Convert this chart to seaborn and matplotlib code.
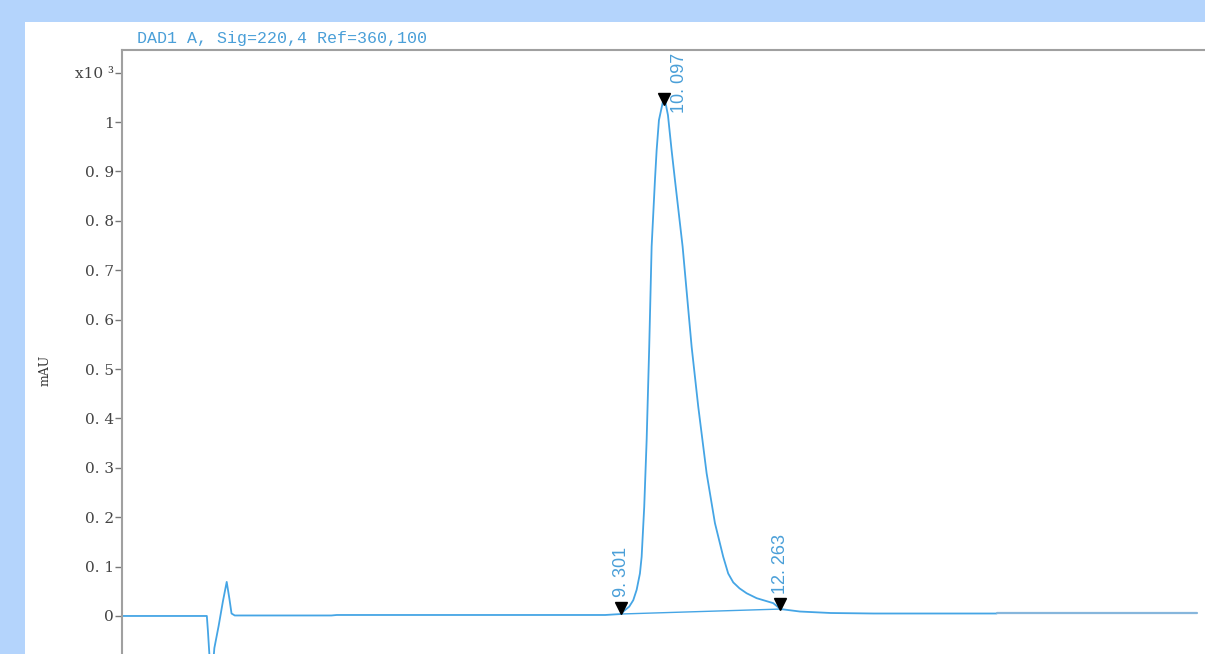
import matplotlib
matplotlib.use('Agg')
import seaborn as sns
import matplotlib.pyplot as plt
from matplotlib.patches import Rectangle
from matplotlib.transforms import offset_copy

sns.set_style('ticks')
plt.rcParams['font.family'] = ['DejaVu Serif']

title = 'DAD1 A, Sig=220,4 Ref=360,100'

# retention time (min) / signal (x10^3 mAU)
time = [0.0, 1.55, 1.58, 1.60, 1.64, 1.68, 1.72, 1.80, 1.88, 1.95, 2.00, 2.04, 2.10,
        3.9, 4.0, 9.0, 9.30, 9.335, 9.447, 9.522, 9.585, 9.646, 9.678, 9.726, 9.771, 9.819,
        9.864, 9.926, 9.957, 10.00, 10.097, 10.168, 10.236, 10.298, 10.441, 10.609, 10.732,
        10.888, 11.043, 11.197, 11.29, 11.384, 11.50, 11.633, 11.82, 12.128, 12.263, 12.626,
        13.2, 14.0, 16.29]
signal = [0.0, 0.0, 0.0, -0.03, -0.10, -0.12, -0.065, -0.02, 0.03, 0.069, 0.035, 0.005, 0.001,
          0.001, 0.002, 0.002, 0.004, 0.009, 0.019, 0.032, 0.053, 0.086, 0.120, 0.221, 0.356, 0.545,
          0.748, 0.883, 0.943, 1.004, 1.053, 1.014, 0.943, 0.883, 0.748, 0.545, 0.424,
          0.289, 0.188, 0.120, 0.086, 0.068, 0.056, 0.046, 0.036, 0.026, 0.014, 0.009,
          0.006, 0.005, 0.005]

# last part of the run (drawn a bit greyer)
tail_time = [16.29, 20.02]
tail_signal = [0.007, 0.007]

peak_times = [9.301, 10.097, 12.263]
peak_heights = [0.004, 1.035, 0.014]
peak_labels = ['9. 301', '10. 097', '12. 263']

yticks = [0, 0.1, 0.2, 0.3, 0.4, 0.5, 0.6, 0.7, 0.8, 0.9, 1.0, 1.1]
ytick_labels = ['0', '0. 1', '0. 2', '0. 3', '0. 4', '0. 5', '0. 6', '0. 7', '0. 8', '0. 9', '1', 'x10 \u00b3']

blue = '#45a5e5'
text_blue = '#4a9fd8'

fig = plt.figure(figsize=(12.05, 6.54), dpi=100)
fig.patch.set_facecolor('#b4d4fc')
fig.patches.append(Rectangle((25 / 1205, 0), 1, (654 - 22) / 654, transform=fig.transFigure,
                             facecolor='white', edgecolor='none', zorder=-10))

ax = fig.add_axes([122 / 1205, 0, 1 - 122 / 1205, (654 - 50) / 654])
ax.set_facecolor('white')

sns.lineplot(x=time, y=signal, ax=ax, color=blue, linewidth=1.3, estimator=None)
sns.lineplot(x=tail_time, y=tail_signal, ax=ax, color='#86b6dc', linewidth=1.6, estimator=None)
# integration baseline
sns.lineplot(x=[peak_times[0], peak_times[2]], y=[peak_heights[0], peak_heights[2]],
             ax=ax, color=blue, linewidth=1.0, estimator=None)

ax.plot(peak_times, peak_heights, linestyle='none', marker='v', color='black', markersize=8,
        transform=offset_copy(ax.transData, fig=fig, x=0, y=5.5, units='dots'), zorder=5)

offsets = [(0, 17), (15, -8), (0, 15)]
for t, h, lbl, off in zip(peak_times, peak_heights, peak_labels, offsets):
    ax.annotate(lbl, xy=(t, h), xytext=off, textcoords='offset pixels', rotation=90,
                ha='center', va='bottom', color=text_blue, fontsize=13, family='Liberation Sans')

ax.set_xlim(0, 20.17)
ax.set_ylim(-0.077, 1.146)
ax.set_yticks(yticks)
ax.set_yticklabels(ytick_labels)
ax.set_xticks([])
ax.tick_params(axis='y', direction='out', length=5, width=1, color='#777777',
               labelsize=11, labelcolor='#444444', pad=1)
for side in ['right', 'bottom']:
    ax.spines[side].set_visible(False)
for side in ['left', 'top']:
    ax.spines[side].set_color('#a0a0a0')
    ax.spines[side].set_linewidth(1.5)

fig.text(137 / 1205, 1 - 38 / 654, title, ha='left', va='center', fontsize=12,
         family='Liberation Mono', color=text_blue)
fig.text(45 / 1205, 1 - 370 / 654, 'mAU', rotation=90, ha='center', va='center',
         fontsize=9, color='#333333')

fig.savefig('out.png', dpi=100)
